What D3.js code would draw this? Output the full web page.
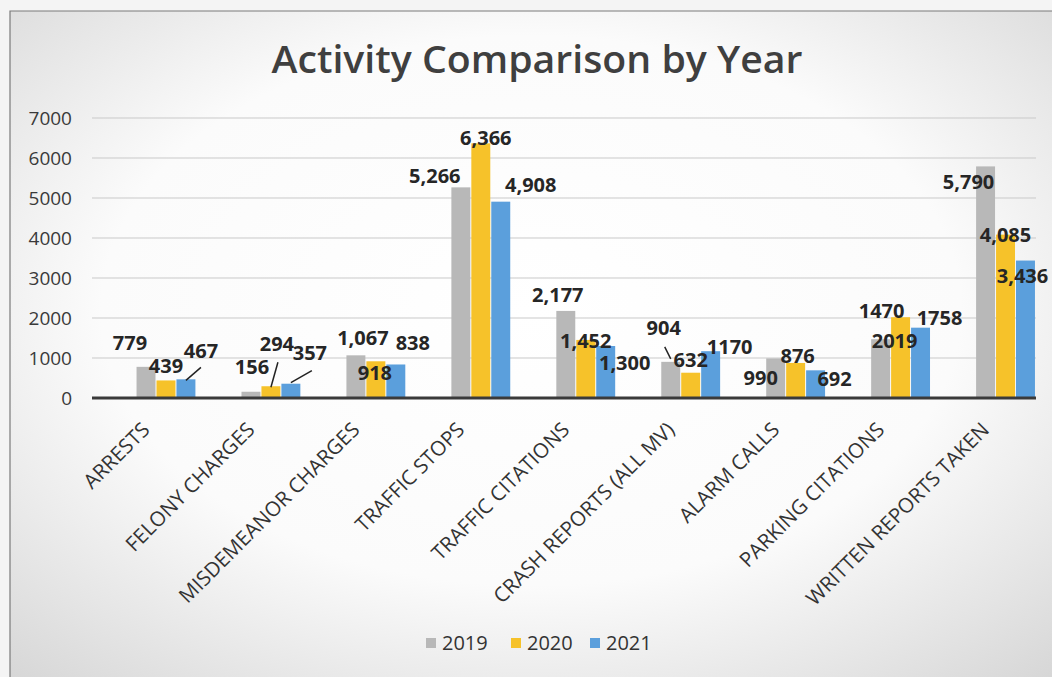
<!DOCTYPE html>
<html>
<head>
<meta charset="utf-8">
<script src="https://cdn.jsdelivr.net/npm/d3@7"></script>
<style>
  html, body { margin: 0; padding: 0; background: #fff; }
  svg { display: block; font-family: "Open Sans", "Noto Sans", sans-serif; }
</style>
</head>
<body>
<svg id="chart" width="1052" height="677"></svg>
<script>
/* ============================================
   ACTIVITY COMPARISON BY YEAR - grouped bars
   ============================================ */

// Datos
const categories = ['ARRESTS', 'FELONY CHARGES', 'MISDEMEANOR CHARGES', 'TRAFFIC STOPS',
    'TRAFFIC CITATIONS', 'CRASH REPORTS (ALL MV)', 'ALARM CALLS', 'PARKING CITATIONS',
    'WRITTEN REPORTS TAKEN'];
const years = ['2019', '2020', '2021'];
const values2019 = [779, 156, 1067, 5266, 2177, 904, 990, 1470, 5790];
const values2020 = [439, 294, 918, 6366, 1452, 632, 876, 2019, 4085];
const values2021 = [467, 357, 838, 4908, 1300, 1170, 692, 1758, 3436];
const yTicks = [0, 1000, 2000, 3000, 4000, 5000, 6000, 7000];
const colors = ['#b8b8b8', '#f6c22a', '#5b9fdc'];

// etiquetas escritas sin separador de miles (serie-categoria)
const plainLabels = new Set(['0-7', '1-7', '2-7', '2-5']);

// Desplazamiento manual de etiquetas [dx, dy] respecto al centro/tope de la barra
const labelNudge = [
    [[-16, -17], [1, -18], [7, -10], [-26, -4], [-8, -9], [-7, -27], [-15, 27], [1, -21], [-17, 23]],
    [[0, -7], [6, -35], [-1, 19], [5, 2], [0, 8], [0, -6], [2, 0], [-6, 31], [0, 7]],
    [[15, -21], [19, -24], [17, -14], [30, -10], [19, 24], [19, 3], [19, 16], [19, -3], [-3, 22]]
];
// lineas guia: serie, categoria, desde, hasta (relativas al tope de la barra)
const leaders = [
    { s: 2, c: 0, from: [0, 1], to: [15, -12] },
    { s: 1, c: 1, from: [0, 1], to: [7, -24] },
    { s: 2, c: 1, from: [0, -1], to: [21, -13] },
    { s: 0, c: 5, from: [0, -3], to: [-6, -15] }
];

const series = [values2019, values2020, values2021];
const W = 1052, H = 677;
const plotLeft = 92, plotRight = 1036;

const svg = d3.select('#chart');
const defs = svg.append('defs');

// Fondo con apariencia de escaneo
const grad = defs.append('radialGradient')
    .attr('id', 'bg').attr('cx', '0.5').attr('cy', '0.45').attr('r', '0.75');
grad.append('stop').attr('offset', '0').attr('stop-color', '#ffffff');
grad.append('stop').attr('offset', '0.55').attr('stop-color', '#fbfbfb');
grad.append('stop').attr('offset', '1').attr('stop-color', '#d6d6d6');

svg.append('rect').attr('width', W).attr('height', H).attr('fill', '#f4f4f4');
svg.append('rect').attr('x', 10).attr('y', 11).attr('width', W - 10).attr('height', H - 11)
    .attr('fill', 'url(#bg)');
svg.append('path').attr('d', `M10,${H} V11 H${W}`)
    .attr('fill', 'none').attr('stroke', '#7a7a7a').attr('stroke-width', 1.2);

// Escalas
const x0 = d3.scaleBand().domain(categories).range([113.5, 1058]).paddingInner(0.42).paddingOuter(0.21);
const x1 = d3.scaleBand().domain(years).range([0, x0.bandwidth()]).padding(0.05);
const y = d3.scaleLinear().domain([0, 7000]).range([398, 118]);

// Titulo
svg.append('text')
    .attr('x', 537).attr('y', 73)
    .attr('text-anchor', 'middle')
    .attr('font-size', 38).attr('font-weight', 600)
    .attr('fill', '#3f3f3f')
    .attr('textLength', 531).attr('lengthAdjust', 'spacingAndGlyphs')
    .text('Activity Comparison by Year');

// Lineas de cuadricula
svg.append('g').selectAll('line')
    .data(yTicks.filter(t => t > 0))
    .enter().append('line')
    .attr('x1', plotLeft).attr('x2', plotRight)
    .attr('y1', d => y(d)).attr('y2', d => y(d))
    .attr('stroke', '#c9c9c9').attr('stroke-width', 1);

// Eje Y
const yAxis = svg.append('g')
    .attr('transform', `translate(${plotLeft - 20},0)`)
    .call(d3.axisLeft(y).tickValues(yTicks).tickSize(0).tickPadding(0).tickFormat(d3.format('d')));
yAxis.select('.domain').remove();
yAxis.selectAll('text')
    .attr('font-size', 19).attr('fill', '#3a3a3a')
    .attr('font-family', '"Open Sans", sans-serif');

// Barras
const groups = svg.append('g').selectAll('g')
    .data(categories)
    .enter().append('g')
    .attr('transform', d => `translate(${x0(d)},0)`);

groups.selectAll('rect')
    .data((d, i) => years.map((yr, s) => ({ yr, s, v: series[s][i] })))
    .enter().append('rect')
    .attr('x', d => x1(d.yr))
    .attr('width', x1.bandwidth())
    .attr('y', d => y(d.v))
    .attr('height', d => y(0) - y(d.v))
    .attr('fill', d => colors[d.s]);

// Linea base
svg.append('line')
    .attr('x1', plotLeft).attr('x2', plotRight)
    .attr('y1', y(0)).attr('y2', y(0))
    .attr('stroke', '#3a3a3a').attr('stroke-width', 3);

// Etiquetas de categoria (rotadas)
svg.append('g').selectAll('text')
    .data(categories)
    .enter().append('text')
    .attr('transform', d => `translate(${x0(d) + x0.bandwidth() / 2 - 15},431) rotate(-45)`)
    .attr('text-anchor', 'end')
    .attr('font-size', 20.5).attr('fill', '#333')
    .text(d => d);

// Etiquetas de datos
const barCx = (s, c) => x0(categories[c]) + x1(years[s]) + x1.bandwidth() / 2;
const labelData = [];
series.forEach((vals, s) => vals.forEach((v, c) => labelData.push({ s, c, v })));

svg.append('g').selectAll('text')
    .data(labelData)
    .enter().append('text')
    .attr('x', d => barCx(d.s, d.c) + labelNudge[d.s][d.c][0])
    .attr('y', d => y(d.v) + labelNudge[d.s][d.c][1])
    .attr('text-anchor', 'middle')
    .attr('font-size', 20).attr('font-weight', 700)
    .attr('fill', '#262626')
    .text(d => plainLabels.has(`${d.s}-${d.c}`) ? String(d.v) : d3.format(',')(d.v));

svg.append('g').selectAll('line')
    .data(leaders)
    .enter().append('line')
    .attr('x1', d => barCx(d.s, d.c) + d.from[0])
    .attr('y1', d => y(series[d.s][d.c]) + d.from[1])
    .attr('x2', d => barCx(d.s, d.c) + d.to[0])
    .attr('y2', d => y(series[d.s][d.c]) + d.to[1])
    .attr('stroke', '#222').attr('stroke-width', 1.5);

// Leyenda
const legendX = [426, 511, 590];
const legend = svg.append('g').selectAll('g')
    .data(years)
    .enter().append('g')
    .attr('transform', (d, i) => `translate(${legendX[i]},643)`);
legend.append('rect')
    .attr('x', 0).attr('y', -5).attr('width', 10).attr('height', 10)
    .attr('fill', (d, i) => colors[i]);
legend.append('text')
    .attr('x', 16).attr('dy', '0.35em')
    .attr('font-size', 20).attr('fill', '#333')
    .text(d => d);
</script>
</body>
</html>
